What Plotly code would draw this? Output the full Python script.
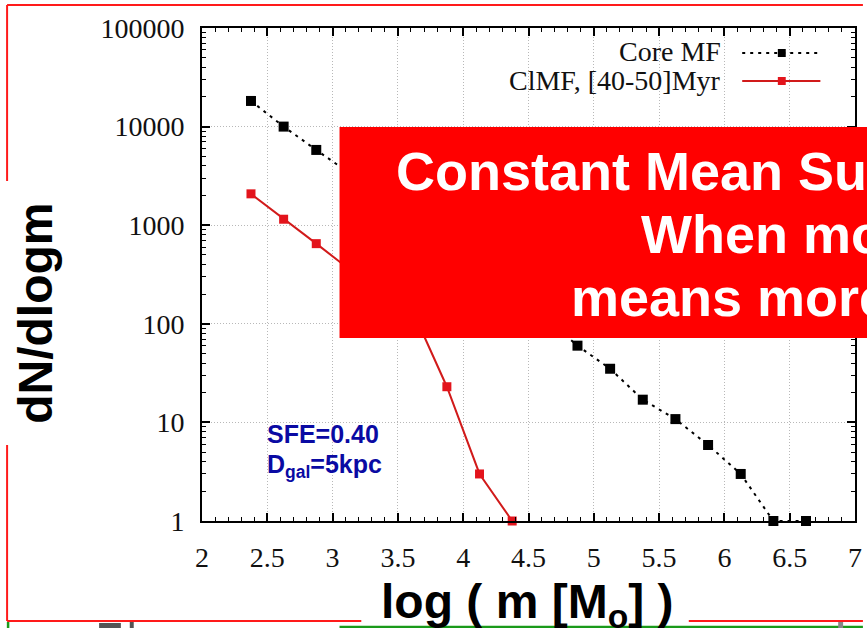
import plotly.graph_objects as go

# ---- data ----
core_x = [2.375, 2.625, 2.875, 3.125, 3.375, 3.625, 3.875, 4.125, 4.375, 4.625,
          4.875, 5.125, 5.375, 5.625, 5.875, 6.125, 6.375, 6.625]
core_y = [18200, 10000, 5800, 3400, 2000, 1150, 680, 390, 215, 115,
          60, 35, 17, 10.8, 5.9, 3.0, 1.0, 1.0]
clmf_x = [2.375, 2.625, 2.875, 3.125, 3.375, 3.625, 3.875, 4.125, 4.375]
clmf_y = [2080, 1150, 650, 360, 220, 125, 23, 3.0, 1.0]

y_tickvals = [1, 10, 100, 1000, 10000, 100000]
y_ticktext = ["1", "10", "100", "1000", "10000", "100000"]
x_tickvals = [2, 2.5, 3, 3.5, 4, 4.5, 5, 5.5, 6, 6.5, 7]
x_ticktext = ["2", "2.5", "3", "3.5", "4", "4.5", "5", "5.5", "6", "6.5", "7"]

series_names = ["Core MF", "ClMF, [40-50]Myr"]

# ---- layout geometry (pixels) ----
W, H = 867, 628
L, R, T, B = 202, 5, 28, 107
PW, PH = W - L - R, H - T - B


def px(x):
    return (x - L) / PW


def py(y):
    return (H - B - y) / PH


RED_LINE = "#d11a1a"
RED_MARK = "#e3141c"
BLUE = "#0a0aa3"
SERIF = "Liberation Serif"
SANS = "Liberation Sans"

fig = go.Figure()
fig.add_trace(go.Scatter(
    x=core_x, y=core_y, mode="lines+markers", name=series_names[0],
    line=dict(color="black", width=2, dash="3px,5px"),
    marker=dict(symbol="square", size=10, color="black"),
    cliponaxis=False, showlegend=False))
fig.add_trace(go.Scatter(
    x=clmf_x, y=clmf_y, mode="lines+markers", name=series_names[1],
    line=dict(color=RED_LINE, width=2),
    marker=dict(symbol="square", size=9, color=RED_MARK),
    cliponaxis=False, showlegend=False))

axis_common = dict(
    showline=True, linecolor="black", linewidth=2, mirror="allticks",
    ticks="inside", ticklen=8, tickwidth=1.5, tickcolor="black",
    showgrid=True, gridcolor="#b8b8b8", gridwidth=1, griddash="1px,2px",
    zeroline=False, tickfont=dict(family=SERIF, size=28, color="#111"),
)

fig.update_xaxes(
    range=[2, 7], tickvals=x_tickvals, ticktext=x_ticktext,
    minor=dict(dtick=0.1, tick0=2, ticks="inside", ticklen=4,
               tickcolor="black", tickwidth=1.2, showgrid=False),
    ticklabelstandoff=10, **axis_common)
fig.update_yaxes(
    type="log", range=[0, 5], tickvals=y_tickvals, ticktext=y_ticktext,
    minor=dict(dtick="D1", ticks="inside", ticklen=4,
               tickcolor="black", tickwidth=1.2, showgrid=False),
    ticklabelstandoff=10, **axis_common)

shapes = []
# slide frame (red) and green underline
frame = dict(type="line", xref="paper", yref="paper", line=dict(color="#ff1a1a", width=2))
shapes.append(dict(frame, x0=px(5), x1=px(870), y0=py(5), y1=py(5)))
shapes.append(dict(frame, x0=px(5), x1=px(5), y0=py(5), y1=py(181)))
shapes.append(dict(frame, x0=px(5), x1=px(5), y0=py(445), y1=py(621)))
shapes.append(dict(frame, x0=px(5), x1=px(363), y0=py(621), y1=py(621)))
shapes.append(dict(frame, x0=px(694), x1=px(870), y0=py(621), y1=py(621)))
green = dict(type="line", xref="paper", yref="paper", line=dict(color="#1a9a1a", width=2.5))
shapes.append(dict(green, x0=px(341), x1=px(870), y0=py(627), y1=py(627)))
shapes.append(dict(green, x0=px(6), x1=px(6), y0=py(622), y1=py(630)))
# fragments of grey text at the slide bottom
grey = dict(type="rect", xref="paper", yref="paper", line=dict(width=0), fillcolor="#555555")
shapes.append(dict(grey, x0=px(98), x1=px(120), y0=py(623), y1=py(628)))
shapes.append(dict(grey, x0=px(129), x1=px(133), y0=py(622), y1=py(628)))
shapes.append(dict(grey, x0=px(845), x1=px(850), y0=py(622), y1=py(628), fillcolor="#888888"))

# legend samples
shapes.append(dict(type="line", xref="paper", yref="paper", x0=px(748), x1=px(827),
                   y0=py(53), y1=py(53), line=dict(color="black", width=2, dash="3px,5px")))
shapes.append(dict(type="rect", xref="paper", yref="paper", x0=px(784), x1=px(792),
                   y0=py(49), y1=py(57), fillcolor="black", line=dict(width=0)))
shapes.append(dict(type="line", xref="paper", yref="paper", x0=px(748), x1=px(827),
                   y0=py(81), y1=py(81), line=dict(color=RED_LINE, width=2)))
shapes.append(dict(type="rect", xref="paper", yref="paper", x0=px(784), x1=px(792),
                   y0=py(77), y1=py(85), fillcolor=RED_MARK, line=dict(width=0)))

# red overlay box
shapes.append(dict(type="rect", xref="paper", yref="paper", x0=px(341), x1=px(900),
                   y0=py(127), y1=py(338), fillcolor="#ff0000", line=dict(width=0), layer="above"))

ann = []
# legend labels
ann.append(dict(text=series_names[0], x=px(729), y=py(51), xanchor="right", yanchor="middle",
                font=dict(family=SERIF, size=28, color="#111")))
ann.append(dict(text=series_names[1], x=px(729), y=py(80), xanchor="right", yanchor="middle",
                font=dict(family=SERIF, size=28, color="#111")))
# blue inset text
ann.append(dict(text="<b>SFE=0.40</b>", x=px(266), y=py(434), xanchor="left", yanchor="middle",
                font=dict(family=SANS, size=25, color=BLUE)))
ann.append(dict(text="<b>D<sub>gal</sub>=5kpc</b>", x=px(266), y=py(466), xanchor="left", yanchor="middle",
                font=dict(family=SANS, size=25, color=BLUE)))
# axis titles
ann.append(dict(text="<b>dN/dlogm</b>", x=px(33), y=py(313), xanchor="center", yanchor="middle",
                textangle=-90, font=dict(family=SANS, size=48, color="black")))
ann.append(dict(text="<b>log ( m [M<sub>o</sub>] )</b>", x=px(530), y=py(605), xanchor="center",
                yanchor="middle", font=dict(family=SANS, size=48, color="black")))
# overlay box text
box_font = dict(family=SANS, size=54, color="white")
ann.append(dict(text="<b>Constant Mean Surface</b>", x=px(396), y=py(171),
                xanchor="left", yanchor="middle", font=box_font))
ann.append(dict(text="<b>When more</b>", x=px(644), y=py(234),
                xanchor="left", yanchor="middle", font=box_font))
ann.append(dict(text="<b>means more</b>", x=px(573), y=py(297),
                xanchor="left", yanchor="middle", font=box_font))
for a in ann:
    a.update(xref="paper", yref="paper", showarrow=False)

fig.update_layout(
    width=W, height=H, margin=dict(l=L, r=R, t=T, b=B),
    paper_bgcolor="white", plot_bgcolor="white",
    shapes=shapes, annotations=ann, showlegend=False,
)

fig.write_html("out.html")
